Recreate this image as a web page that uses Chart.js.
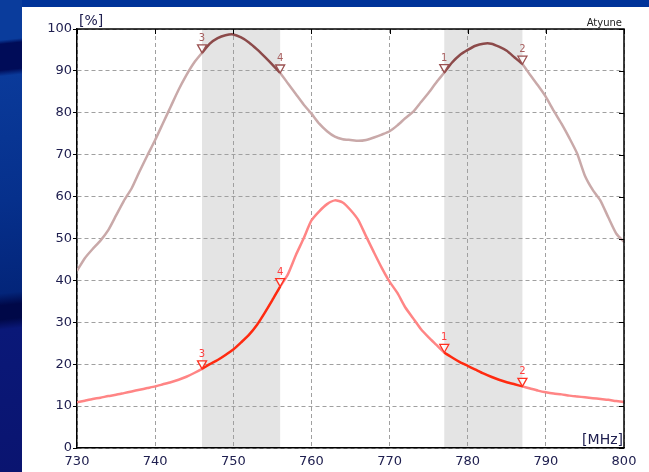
<!DOCTYPE html>
<html>
<head>
<meta charset="utf-8">
<script src="https://cdn.jsdelivr.net/npm/chart.js@4/dist/chart.umd.min.js"></script>
<style>
html, body { margin: 0; padding: 0; }
body { width: 649px; height: 472px; overflow: hidden; position: relative; background: #003399; }
#strip {
    position: absolute; left: 0; top: 0; width: 22px; height: 472px;
    background: linear-gradient(174deg, #0a3c9c 0px, #0a3c9c 40px, #000c58 44px, #000c58 70px,
        #0a3a9a 76px, #06308c 200px, #03257a 292px, #000848 304px, #000848 318px, #0a1878 328px, #0a1470 472px);
}
#panel { position: absolute; left: 22px; top: 7px; width: 627px; height: 465px; background: #fff; }
</style>
</head>
<body>
<div id="strip"></div>
<div id="panel"><canvas id="myChart" width="627" height="465"></canvas></div>
<script>
// frequency axis (MHz)
const freqs = [
    730, 731, 732, 733, 734, 735, 736, 737, 738, 739, 740,
    741, 742, 743, 744, 745, 746, 747, 748, 749, 750,
    751, 752, 753, 754, 755, 756, 757, 758, 759, 760,
    761, 762, 763, 764, 765, 766, 767, 768, 769, 770,
    771, 772, 773, 774, 775, 776, 777, 778, 779, 780,
    781, 782, 783, 784, 785, 786, 787, 788, 789, 790,
    791, 792, 793, 794, 795, 796, 797, 798, 799, 800
];

// upper trace [%]
const upperLevel = [
    42.3, 45.3, 47.5, 49.5, 52, 55.5, 59, 62, 66, 69.8, 73.5,
    77.5, 81.5, 85.5, 89, 92, 94.3, 96.5, 97.8, 98.5, 98.7,
    98, 96.8, 95.2, 93.4, 91.5, 89.5, 87, 84.5, 82, 79.8,
    77.4, 75.6, 74.3, 73.7, 73.5, 73.3, 73.5, 74.1, 74.8, 75.6,
    77, 78.7, 80.2, 82.5, 84.8, 87.3, 89.6, 92, 93.8, 95,
    96, 96.5, 96.5, 95.8, 94.8, 93.2, 91.6, 89, 86.5, 83.8,
    80.5, 77.4, 74, 70.3, 65, 61.6, 59, 55, 51.2, 49.2
];

// lower trace [%]
const lowerLevel = [
    10.9, 11.3, 11.7, 12, 12.4, 12.7, 13.1, 13.5, 13.9, 14.3, 14.7,
    15.2, 15.7, 16.3, 17, 17.9, 18.9, 20, 21, 22.2, 23.5,
    25.2, 27, 29.3, 32.2, 35.3, 38.5, 41.5, 46, 50, 54.3,
    56.5, 58.2, 59.1, 58.6, 56.8, 54.4, 50.5, 46.7, 43, 39.7,
    37, 33.6, 31, 28.4, 26.4, 24.6, 22.8, 21.6, 20.5, 19.6,
    18.7, 17.8, 17, 16.3, 15.7, 15.2, 14.7, 14.2, 13.7, 13.3,
    13, 12.8, 12.5, 12.3, 12.1, 11.9, 11.7, 11.5, 11.2, 11
];

// shaded bands and markers
const bands = [[746, 756], [777, 787]];
const markerFreqs = [746, 756, 777, 787];
const markerLabels = ['3', '4', '1', '2'];

const xTicks = [730, 740, 750, 760, 770, 780, 790, 800];
const yTicks = [0, 10, 20, 30, 40, 50, 60, 70, 80, 90, 100];

const labelColor = '#202050';

function inBand(x0, x1) {
    return bands.some(b => x0 >= b[0] && x1 <= b[1]);
}

function toPoints(values) {
    return freqs.map((f, i) => ({ x: f, y: values[i] }));
}

// bands under the grid, markers and frame on top
const decorPlugin = {
    id: 'decor',
    beforeDraw(chart) {
        const { ctx, chartArea, scales } = chart;
        ctx.save();
        ctx.fillStyle = '#e4e4e4';
        bands.forEach(b => {
            const x0 = scales.x.getPixelForValue(b[0]);
            const x1 = scales.x.getPixelForValue(b[1]);
            ctx.fillRect(x0, chartArea.top, x1 - x0, chartArea.bottom - chartArea.top);
        });
        ctx.restore();
    },
    afterDatasetsDraw(chart) {
        const { ctx } = chart;
        const styles = [
            { stroke: '#9a5050', text: '#a86060' },
            { stroke: '#ff3020', text: '#ff4040' }
        ];
        ctx.save();
        chart.data.datasets.forEach((ds, di) => {
            const meta = chart.getDatasetMeta(di);
            markerFreqs.forEach((f, k) => {
                const idx = freqs.indexOf(f);
                const pt = meta.data[idx];
                const x = pt.x, y = pt.y;
                ctx.beginPath();
                ctx.moveTo(x, y);
                ctx.lineTo(x - 4.5, y - 8);
                ctx.lineTo(x + 4.5, y - 8);
                ctx.closePath();
                ctx.fillStyle = 'rgba(255,255,255,0.6)';
                ctx.fill();
                ctx.lineWidth = 1.3;
                ctx.strokeStyle = styles[di].stroke;
                ctx.stroke();
                ctx.fillStyle = styles[di].text;
                ctx.font = '10px "DejaVu Sans"';
                ctx.textAlign = 'center';
                ctx.textBaseline = 'alphabetic';
                ctx.fillText(markerLabels[k], x, y - 12);
            });
        });
        ctx.restore();
    },
    afterDraw(chart) {
        const { ctx, chartArea, scales } = chart;
        ctx.save();
        ctx.strokeStyle = '#000';
        ctx.lineWidth = 1.5;
        ctx.beginPath();
        ctx.moveTo(chartArea.left, chartArea.top);
        ctx.lineTo(chartArea.right, chartArea.top);
        ctx.lineTo(chartArea.right, chartArea.bottom);
        ctx.stroke();
        // inner ticks on the top and right borders
        ctx.lineWidth = 1;
        ctx.beginPath();
        xTicks.forEach(v => {
            const px = Math.round(scales.x.getPixelForValue(v)) + 0.5;
            ctx.moveTo(px, chartArea.top);
            ctx.lineTo(px, chartArea.top + 5);
        });
        yTicks.forEach(v => {
            const py = Math.round(scales.y.getPixelForValue(v)) + 0.5;
            ctx.moveTo(chartArea.right - 5, py);
            ctx.lineTo(chartArea.right, py);
        });
        ctx.stroke();

        ctx.fillStyle = labelColor;
        ctx.font = '14px "DejaVu Sans"';
        ctx.textBaseline = 'alphabetic';
        ctx.textAlign = 'left';
        ctx.fillText('[%]', chartArea.left + 2, chartArea.top - 4);
        ctx.textAlign = 'right';
        ctx.fillText('[MHz]', chartArea.right - 1, chartArea.bottom - 4);
        ctx.fillStyle = '#222';
        ctx.font = '10px "DejaVu Sans"';
        ctx.fillText('Atyune', chartArea.right - 2, chartArea.top - 3);
        ctx.restore();
    }
};

Chart.defaults.font.family = '"DejaVu Sans", Verdana, sans-serif';
Chart.defaults.font.size = 13;
Chart.defaults.color = labelColor;

function initializeChart() {
    const ctx = document.getElementById('myChart').getContext('2d');
    return new Chart(ctx, {
        type: 'line',
        data: {
            datasets: [
                {
                    label: 'upper',
                    data: toPoints(upperLevel),
                    borderColor: '#c9a9a9',
                    borderWidth: 2.5,
                    pointRadius: 0,
                    tension: 0.2,
                    segment: {
                        borderColor: c => inBand(c.p0.parsed.x, c.p1.parsed.x) ? '#8c4a4a' : undefined
                    }
                },
                {
                    label: 'lower',
                    data: toPoints(lowerLevel),
                    borderColor: '#ff8585',
                    borderWidth: 2.5,
                    pointRadius: 0,
                    tension: 0.2,
                    segment: {
                        borderColor: c => inBand(c.p0.parsed.x, c.p1.parsed.x) ? '#ff2a10' : undefined
                    }
                }
            ]
        },
        options: {
            responsive: false,
            animation: false,
            layout: { padding: { top: 22, right: 25, bottom: 0, left: 0 } },
            plugins: { legend: { display: false }, tooltip: { enabled: false } },
            scales: {
                x: {
                    type: 'linear',
                    min: 730,
                    max: 800,
                    afterFit: s => { s.height = 24; },
                    afterBuildTicks: s => { s.ticks = xTicks.map(v => ({ value: v })); },
                    ticks: { padding: 6, maxRotation: 0, color: labelColor },
                    grid: { color: '#a0a0a0', lineWidth: 1, drawTicks: false },
                    border: { display: true, color: '#000', width: 1.5, dash: [4, 3] }
                },
                y: {
                    type: 'linear',
                    min: 0,
                    max: 100,
                    afterFit: s => { s.width = 55; },
                    afterBuildTicks: s => { s.ticks = yTicks.map(v => ({ value: v })); },
                    ticks: { padding: 1, color: labelColor },
                    grid: { color: '#a0a0a0', lineWidth: 1, tickLength: 4, tickColor: '#000' },
                    border: { display: true, color: '#000', width: 1.5, dash: [4, 3] }
                }
            }
        },
        plugins: [decorPlugin]
    });
}

initializeChart();
</script>
</body>
</html>
